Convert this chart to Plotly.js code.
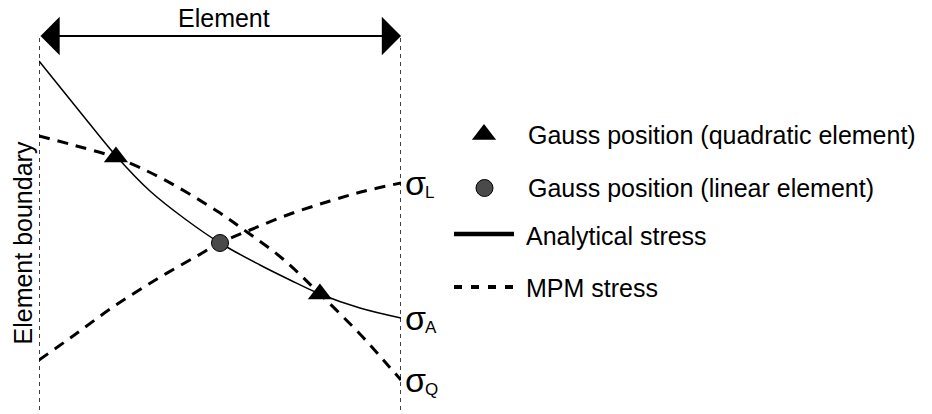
<!DOCTYPE html>
<html>
<head>
<meta charset="utf-8">
<script src="https://cdn.plot.ly/plotly-3.0.1.min.js"></script>
<style>html,body{margin:0;padding:0;background:#fff;}#chart{width:932px;height:414px;}</style>
</head>
<body>
<div id="chart"></div>
<script>
// Natural coordinate xi across the element (-1 = left boundary, 1 = right boundary), stress in arbitrary units
const analyticalXi     = [-1, -0.773, -0.569, -0.387, -0.193, 0, 0.221, 0.387, 0.552, 0.773, 1];
const analyticalStress = [35.3, 30.2, 25.7, 22.3, 19.5, 17.1, 14.9, 13.4, 12.0, 10.6, 9.6];
const quadXi           = [-1, -0.812, -0.569, -0.315, -0.017, 0.149, 0.348, 0.552, 0.773, 0.912, 1];
const quadStress       = [27.8, 26.9, 25.6, 23.5, 20.3, 18.2, 15.5, 12.0, 8.0, 5.2, 3.4];
const linXi            = [-1, -0.812, -0.591, -0.348, -0.127, 0, 0.166, 0.387, 0.608, 0.801, 1];
const linStress        = [5.4, 7.8, 10.7, 13.5, 15.8, 17.1, 18.4, 20.0, 21.3, 22.3, 23.1];
const gaussQuadXi      = [-0.575, 0.552];
const gaussQuadStress  = [25.7, 12.0];
const gaussLinXi       = [0];
const gaussLinStress   = [17.1];
const elementBounds    = [-1, 1];
const legendLabels     = ['Gauss position (quadratic element)', 'Gauss position (linear element)', 'Analytical stress', 'MPM stress'];
const sigmaSubs        = ['L', 'A', 'Q'];
const topLabel         = 'Element';
const sideLabel        = 'Element boundary';

const W = 932, H = 414;
const FONT = 'Liberation Sans, Arial, sans-serif';
const px = v => v / W;            // pixel x -> paper
const py = v => 1 - v / H;        // pixel y -> paper
const YMAX = 41.4;

const traces = [
  {x: quadXi, y: quadStress, mode: 'lines', line: {color: '#000', width: 3, dash: '11px,8px', shape: 'spline'}, hoverinfo: 'skip'},
  {x: linXi, y: linStress, mode: 'lines', line: {color: '#000', width: 3, dash: '11px,8px', shape: 'spline'}, hoverinfo: 'skip'},
  {x: analyticalXi, y: analyticalStress, mode: 'lines', line: {color: '#000', width: 1.5, shape: 'spline'}, hoverinfo: 'skip'},
  {x: gaussQuadXi, y: gaussQuadStress, mode: 'markers', marker: {symbol: 'triangle-up', size: 21, color: '#000'}, hoverinfo: 'skip'},
  {x: gaussLinXi, y: gaussLinStress, mode: 'markers', marker: {symbol: 'circle', size: 17, color: '#4a4a4a', line: {color: '#000', width: 1}}, hoverinfo: 'skip'},
  // legend keys on a full-figure overlay axis
  {x: [484], y: [134.5], xaxis: 'x2', yaxis: 'y2', mode: 'markers', marker: {symbol: 'triangle-up', size: 21, color: '#000'}, hoverinfo: 'skip'},
  {x: [484.5], y: [188], xaxis: 'x2', yaxis: 'y2', mode: 'markers', marker: {symbol: 'circle', size: 17, color: '#4a4a4a', line: {color: '#000', width: 1}}, hoverinfo: 'skip'},
  {x: [454, 514], y: [234, 234], xaxis: 'x2', yaxis: 'y2', mode: 'lines', line: {color: '#000', width: 4.5}, hoverinfo: 'skip'},
  {x: [454, 514], y: [287, 287], xaxis: 'x2', yaxis: 'y2', mode: 'lines', line: {color: '#000', width: 4, dash: '8px,9px'}, hoverinfo: 'skip'}
];

const annotations = [
  {xref: 'x', yref: 'y', x: elementBounds[1], y: YMAX * (1 - 36 / H), axref: 'x', ayref: 'y', ax: elementBounds[0], ay: YMAX * (1 - 36 / H),
   text: '', showarrow: true, arrowhead: 1, startarrowhead: 1, arrowside: 'end+start', arrowwidth: 2, arrowsize: 3.2, startarrowsize: 3.2, arrowcolor: '#000', standoff: 0, startstandoff: 0},
  {xref: 'paper', yref: 'paper', x: px(223.5), y: py(18), text: topLabel, showarrow: false, xanchor: 'center', yanchor: 'middle', font: {family: FONT, size: 25, color: '#000'}},
  {xref: 'paper', yref: 'paper', x: px(23), y: py(243.5), text: sideLabel, textangle: -90, showarrow: false, xanchor: 'center', yanchor: 'middle', font: {family: FONT, size: 25, color: '#000'}}
];

const legendRows = [134.5, 188, 236, 288];
legendLabels.forEach((t, i) => {
  annotations.push({xref: 'paper', yref: 'paper', x: px(i < 2 ? 526 : 524), y: py(legendRows[i]), text: t, showarrow: false, xanchor: 'left', yanchor: 'middle', font: {family: FONT, size: 25, color: '#000'}});
});

const endStress = [linStress[linStress.length - 1], analyticalStress[analyticalStress.length - 1], quadStress[quadStress.length - 1]];
sigmaSubs.forEach((s, i) => {
  annotations.push({xref: 'paper', yref: 'y', x: px(403), y: endStress[i], text: 'σ', showarrow: false, xanchor: 'left', yanchor: 'middle', font: {family: FONT, size: 34, color: '#000'}});
  annotations.push({xref: 'paper', yref: 'y', x: px(423), y: endStress[i], yshift: -9, text: s, showarrow: false, xanchor: 'left', yanchor: 'middle', font: {family: FONT, size: 17, color: '#000'}});
});

const shapes = elementBounds.map(b => ({
  type: 'line', xref: 'x', yref: 'y', x0: b, x1: b, y0: YMAX * (1 - 410 / H), y1: YMAX * (1 - 37 / H),
  line: {color: '#000', width: 1.5, dash: '4px,4px'}
}));

const layout = {
  width: W, height: H,
  margin: {l: 0, r: 0, t: 0, b: 0, pad: 0},
  paper_bgcolor: '#fff', plot_bgcolor: 'rgba(0,0,0,0)',
  showlegend: false,
  xaxis: {domain: [39 / W, 401 / W], range: [-1, 1], visible: false, fixedrange: true},
  yaxis: {domain: [0, 1], range: [0, YMAX], visible: false, fixedrange: true},
  xaxis2: {domain: [0, 1], range: [0, W], anchor: 'y2', visible: false, fixedrange: true},
  yaxis2: {domain: [0, 1], range: [H, 0], anchor: 'x2', visible: false, fixedrange: true},
  annotations: annotations,
  shapes: shapes
};

Plotly.newPlot('chart', traces, layout, {displayModeBar: false, staticPlot: true});
</script>
</body>
</html>
